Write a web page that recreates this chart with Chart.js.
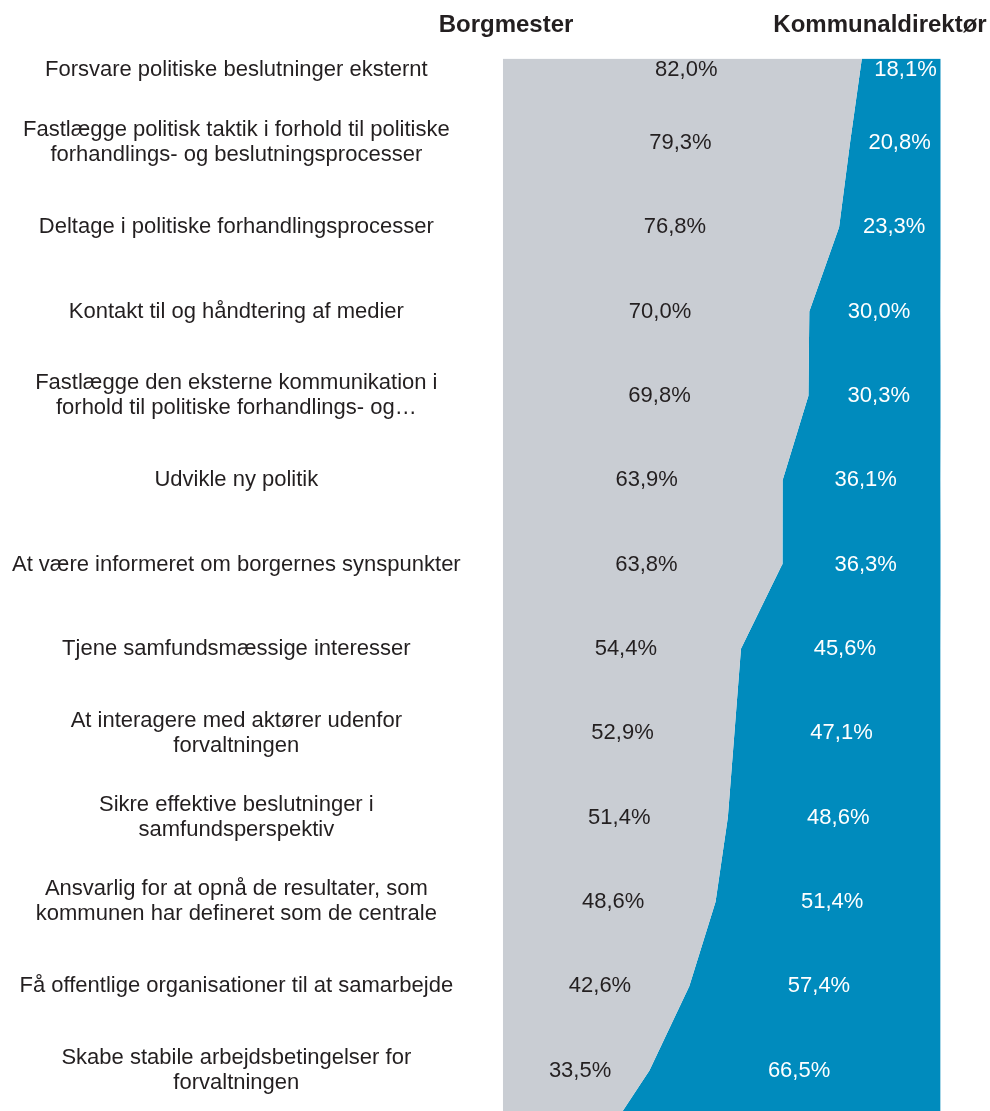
<!DOCTYPE html>
<html>
<head>
<meta charset="utf-8">
<script src="https://cdn.jsdelivr.net/npm/chart.js@4.4.1/dist/chart.umd.min.js"></script>
<style>
  html, body { margin: 0; padding: 0; background: #ffffff; }
  #wrap { width: 990px; height: 1111px; position: relative; }
</style>
</head>
<body>
<div id="wrap"><canvas id="c" width="990" height="1111"></canvas></div>
<script>
// ---- data ----
const categories = [
  "Forsvare politiske beslutninger eksternt",
  ["Fastlægge politisk taktik i forhold til politiske", "forhandlings- og beslutningsprocesser"],
  "Deltage i politiske forhandlingsprocesser",
  "Kontakt til og håndtering af medier",
  ["Fastlægge den eksterne kommunikation i", "forhold til politiske forhandlings- og…"],
  "Udvikle ny politik",
  "At være informeret om borgernes synspunkter",
  "Tjene samfundsmæssige interesser",
  ["At interagere med aktører udenfor", "forvaltningen"],
  ["Sikre effektive beslutninger i", "samfundsperspektiv"],
  ["Ansvarlig for at opnå de resultater, som", "kommunen har defineret som de centrale"],
  "Få offentlige organisationer til at samarbejde",
  ["Skabe stabile arbejdsbetingelser for", "forvaltningen"]
];
const seriesNames = ["Borgmester", "Kommunaldirektør"];
const borgmester = [82.0, 79.3, 76.8, 70.0, 69.8, 63.9, 63.8, 54.4, 52.9, 51.4, 48.6, 42.6, 33.5];
const kommunaldirektor = [18.1, 20.8, 23.3, 30.0, 30.3, 36.1, 36.3, 45.6, 47.1, 48.6, 51.4, 57.4, 66.5];
// where the two bands are cut by the bottom edge of the picture
const bottomEdgeBorgmester = 27.4;
const bottomEdgeKommunaldirektor = 72.6;

// ---- styling / layout ----
const GRAY = "#c9cdd3";
const BLUE = "#008bbd";
const TEXT = "#231f20";
const FONT = '"Liberation Sans", Arial, Helvetica, sans-serif';
const Y_MAX = 12.48;          // the picture ends about half a row below the last category
const FIRST_ROW_NUDGE = 0.135; // first row's texts sit slightly below the top edge

const fmt = v => v.toFixed(1).replace(".", ",") + "%";
const rowPos = i => (i === 0 ? FIRST_ROW_NUDGE : i);

const borgData = borgmester.map((v, i) => ({ x: v, y: i }));
borgData.push({ x: bottomEdgeBorgmester, y: Y_MAX });
const komData = kommunaldirektor.map((v, i) => ({ x: v, y: i }));
komData.push({ x: bottomEdgeKommunaldirektor, y: Y_MAX });

const labelPlugin = {
  id: "valueLabels",
  afterDatasetsDraw(chart) {
    const ctx = chart.ctx;
    const xs = chart.scales.x, ys = chart.scales.y;
    ctx.save();
    ctx.font = "22px " + FONT;
    ctx.textAlign = "center";
    ctx.textBaseline = "middle";
    categories.forEach((c, i) => {
      const y = ys.getPixelForValue(rowPos(i));
      const b = borgmester[i], k = kommunaldirektor[i];
      ctx.fillStyle = TEXT;
      ctx.fillText(fmt(b), xs.getPixelForValue(b / 2) + 4, y);
      ctx.fillStyle = "#ffffff";
      ctx.fillText(fmt(k), xs.getPixelForValue(b + k / 2) + 4, y);
    });
    // series headers
    ctx.fillStyle = TEXT;
    ctx.font = "bold 24px " + FONT;
    ctx.textBaseline = "alphabetic";
    ctx.fillText(seriesNames[0], 506, 31.5, 136);
    ctx.fillText(seriesNames[1], 880, 31.5, 214);
    ctx.restore();
  }
};

new Chart(document.getElementById("c"), {
  type: "line",
  data: {
    datasets: [
      {
        label: seriesNames[0],
        data: borgData,
        backgroundColor: GRAY,
        borderWidth: 0,
        pointRadius: 0,
        fill: "origin",
        tension: 0
      },
      {
        label: seriesNames[1],
        data: komData,
        backgroundColor: BLUE,
        borderWidth: 0,
        pointRadius: 0,
        fill: "-1",
        tension: 0
      }
    ]
  },
  options: {
    indexAxis: "y",
    responsive: false,
    animation: false,
    layout: { padding: { top: 58.5, right: 49.3, bottom: 0, left: 0 } },
    plugins: { legend: { display: false }, tooltip: { enabled: false } },
    scales: {
      x: { type: "linear", min: 0, max: 100, stacked: true, display: false },
      y: {
        type: "linear",
        reverse: true,
        min: 0,
        max: Y_MAX,
        grid: { display: false, drawTicks: false },
        border: { display: false },
        afterBuildTicks: s => { s.ticks = categories.map((c, i) => ({ value: rowPos(i) })); },
        afterFit: s => {
          s.width = 502.7;
          s.paddingTop = 0;
          s.paddingBottom = 0;
        },
        ticks: {
          autoSkip: false,
          crossAlign: "center",
          padding: 42,
          color: TEXT,
          font: { family: FONT, size: 22, lineHeight: 1.14 },
          callback: (v, i) => categories[i]
        }
      }
    }
  },
  plugins: [labelPlugin]
});
</script>
</body>
</html>
